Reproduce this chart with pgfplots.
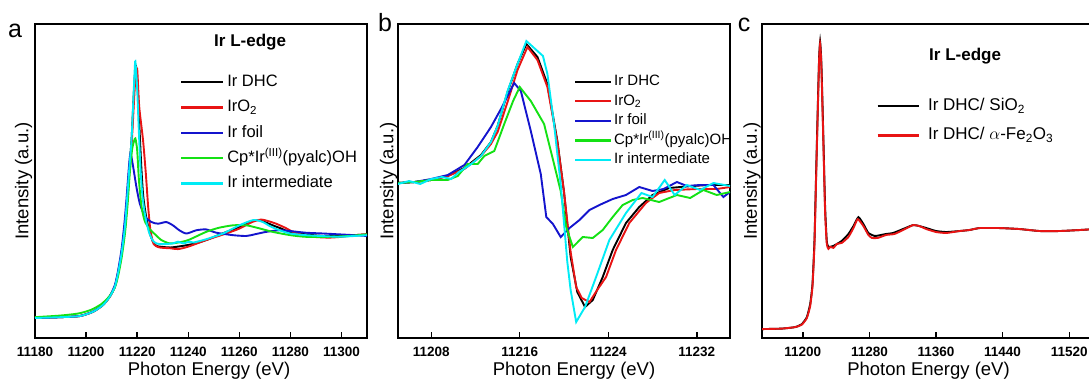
\documentclass[border=0pt]{standalone}
\usepackage{pgfplots}
\pgfplotsset{compat=1.18}
\usepackage{fontspec}
\setmainfont{Liberation Sans}

\definecolor{cRed}{RGB}{232,20,20}
\definecolor{cBlue}{RGB}{20,20,205}
\definecolor{cGreen}{RGB}{20,225,20}
\definecolor{cCyan}{RGB}{0,235,245}

\pgfplotsset{
  panel/.style={
    scale only axis, height=314pt,
    axis line style={line width=1.8pt},
    tick style={line width=1.4pt, black},
    major tick length=6pt,
    tick align=inside,
    xtick pos=bottom,
    ytick=\empty,
    scaled x ticks=false,
    /pgf/number format/assume math mode=true,
    /pgf/number format/1000 sep={},
    xticklabel style={font=\bfseries\fontsize{13.5}{14}\selectfont, anchor=base, yshift=-18pt},
    xlabel style={font=\fontsize{18.5}{20}\selectfont, at={(axis description cs:0.5,0)}, anchor=base, yshift=-37pt},
    ylabel style={font=\fontsize{18.5}{20}\selectfont, anchor=center},
    every axis plot/.append style={line width=1.9pt},
    legend cell align=left,
    clip=true,
  },
}

\begin{document}
\begin{tikzpicture}
\useasboundingbox (0pt,0pt) rectangle (1089pt,381pt);

% ---------------- panel a ----------------
\begin{axis}[panel,
  at={(35pt,43pt)}, anchor=south west, width=332pt,
  xmin=11180, xmax=11310, ymin=-0.244, ymax=3.585,
  xtick={11180,11200,11220,11240,11260,11280,11300},
  xticklabels={11180,11200,11220,11240,11260,11280,11300},
  xlabel={Photon Energy (eV)}, ylabel={Intensity (a.u.)},
  xlabel style={xshift=8pt},
  ylabel style={at={(axis description cs:-0.034,0.5)}},
  legend style={draw=none, fill=none, inner sep=0pt, outer sep=0pt,
    at={(0.437,0.839)}, anchor=north west, column sep=3pt, row sep=9.3pt,
    font=\fontsize{16.5}{17}\selectfont,
    nodes={inner sep=0pt, text height=12pt, text depth=4pt}},
  legend image code/.code={\draw[#1, line width=2.2pt] (0pt,0.3pt) -- (42pt,0.3pt);},
  every axis plot/.append style={smooth, tension=0.4},
]
\addplot[black] coordinates {
(11180,0.00) (11190,0.01) (11197.6,0.024) (11202.8,0.077) (11206.7,0.16) (11209.3,0.26)
(11211.25,0.38) (11212.5,0.545) (11213.9,0.79) (11215.2,1.11) (11216.4,1.60) (11217.1,1.89)
(11217.8,2.17) (11218.4,2.55) (11219.0,2.92) (11219.6,3.06) (11220.3,2.75) (11221.0,2.25)
(11221.7,1.80) (11222.4,1.48) (11223.6,1.22) (11224.9,1.04) (11226.2,0.93) (11227.5,0.88)
(11229,0.87) (11233,0.86) (11238,0.88) (11243,0.91) (11247,0.95) (11251,1.00) (11255,1.05)
(11260,1.11) (11264,1.17) (11267.2,1.195) (11270,1.17) (11273.1,1.13) (11276.5,1.09)
(11279.6,1.05) (11286,1.02) (11293,1.00) (11300,1.00) (11305,1.01) (11310,1.02)};
\addlegendentry{Ir DHC}
\addplot[cRed] coordinates {
(11180,0.00) (11190,0.01) (11197.6,0.024) (11202.8,0.077) (11206.7,0.16) (11209.3,0.26)
(11211.25,0.38) (11212.5,0.545) (11213.9,0.78) (11215.2,1.08) (11216.4,1.55) (11217.1,1.85)
(11217.9,2.15) (11218.6,2.55) (11219.3,2.92) (11220.0,3.04) (11220.8,2.58) (11222.3,2.17)
(11223.4,1.76) (11224.3,1.36) (11225.2,1.07) (11226.5,0.90) (11228.8,0.86) (11233,0.85)
(11236,0.84) (11240,0.87) (11247,0.95) (11254.8,1.03) (11260,1.09) (11265,1.17)
(11268.5,1.20) (11271.5,1.18) (11274.4,1.15) (11278,1.10) (11281,1.05) (11285,1.01)
(11288.7,0.99) (11295,0.98) (11300,0.99) (11305,1.01) (11310,1.02)};
\addlegendentry{IrO\textsubscript{2}}
\addplot[cBlue] coordinates {
(11180,0.00) (11190,0.01) (11197.6,0.025) (11202.8,0.08) (11206.7,0.165) (11209.3,0.27)
(11211.25,0.40) (11212.5,0.57) (11213.9,0.84) (11215,1.15) (11215.8,1.44) (11216.8,1.85)
(11217.4,2.01) (11218.4,1.85) (11219.7,1.60) (11221,1.40) (11223,1.24) (11225.6,1.17)
(11228.2,1.15) (11231.4,1.17) (11234,1.13) (11236.5,1.07) (11239.3,1.03) (11243.2,1.07)
(11247,1.08) (11251,1.04) (11257.5,1.01) (11262.7,1.00) (11266,1.02) (11270.5,1.05)
(11275.7,1.07) (11280,1.06) (11286,1.04) (11293,1.03) (11299,1.02) (11305,1.01) (11310,1.00)};
\addlegendentry{Ir foil}
\addplot[cGreen] coordinates {
(11180,0.01) (11190,0.03) (11197,0.055) (11202,0.10) (11206,0.17) (11209,0.26)
(11211.25,0.37) (11212.6,0.52) (11214,0.75) (11215.3,1.05) (11216.3,1.40) (11217.1,1.76)
(11218,2.05) (11218.8,2.16) (11219.3,2.19) (11220,2.05) (11220.7,1.68) (11221.7,1.36)
(11223,1.18) (11225,1.08) (11227,1.02) (11229.5,0.95) (11232.7,0.91) (11236,0.92)
(11240,0.95) (11247,1.05) (11252,1.10) (11257.5,1.13) (11262.7,1.13) (11267,1.10)
(11273.1,1.05) (11280,1.01) (11286,0.99) (11295,0.99) (11303,1.00) (11310,1.02)};
\addlegendentry{Cp*Ir\textsuperscript{(III)}(pyalc)OH}
\addplot[cCyan] coordinates {
(11180,0.00) (11190,0.01) (11197.6,0.024) (11202.8,0.077) (11206.7,0.16) (11209.3,0.26)
(11211.25,0.38) (11212.5,0.545) (11213.9,0.79) (11215.2,1.11) (11216.4,1.60) (11217.1,1.89)
(11217.8,2.17) (11218.4,2.58) (11219.0,3.00) (11219.3,3.13) (11220.0,2.80) (11220.7,2.25)
(11221.4,1.78) (11222.1,1.48) (11223.3,1.22) (11224.6,1.05) (11226,0.95) (11227.5,0.91)
(11230,0.90) (11234,0.91) (11236,0.93) (11238,0.91) (11240.5,0.93) (11242,0.92) (11247,0.96)
(11253.6,1.03) (11260,1.13) (11265.6,1.195) (11269.2,1.17) (11272,1.12) (11275.7,1.07)
(11280,1.03) (11286,1.01) (11292,1.00) (11299,0.99) (11305,1.00) (11310,1.01)};
\addlegendentry{Ir intermediate}
\node[font=\bfseries\fontsize{17}{18}\selectfont, anchor=base] at (rel axis cs:0.648,0.927) {Ir L-edge};
\end{axis}

% ---------------- panel b ----------------
\begin{axis}[panel,
  at={(398pt,43pt)}, anchor=south west, width=332pt,
  xmin=11205, xmax=11235, ymin=-1.56, ymax=1.58,
  xtick={11208,11216,11224,11232},
  xticklabels={11208,11216,11224,11232},
  xlabel={Photon Energy (eV)}, ylabel={Intensity (a.u.)},
  xlabel style={xshift=10pt},
  ylabel style={at={(axis description cs:-0.028,0.5)}},
  legend style={draw=none, fill=none, inner sep=0pt, outer sep=0pt,
    at={(0.530,0.8395)}, anchor=north west, column sep=2pt, row sep=4.6pt,
    font=\fontsize{15}{16}\selectfont,
    nodes={inner sep=0pt, text height=11pt, text depth=4pt}},
  legend image code/.code={\draw[#1, line width=2.2pt] (0pt,0.3pt) -- (36pt,0.3pt);},
]
\addplot[black] coordinates {
(11205,-0.01) (11206.5,0.0) (11208,0.02) (11209.5,0.06) (11211,0.14) (11212.5,0.27)
(11213.4,0.40) (11214,0.56) (11214.9,0.90) (11215.8,1.18) (11216.6,1.38) (11217.6,1.25)
(11218.5,0.98) (11219.4,0.41) (11220.0,-0.10) (11220.6,-0.75) (11221.2,-1.10) (11221.9,-1.25)
(11222.6,-1.18) (11223.5,-0.95) (11224.4,-0.68) (11225.6,-0.41) (11226.8,-0.25) (11228,-0.13)
(11229.5,-0.06) (11231.6,-0.04) (11233,-0.03) (11235,-0.03)};
\addlegendentry{Ir DHC}
\addplot[cRed] coordinates {
(11205,-0.01) (11206.5,0.0) (11208,0.02) (11209.5,0.06) (11211,0.13) (11212.5,0.26)
(11213.4,0.38) (11214,0.50) (11214.9,0.80) (11215.8,1.12) (11216.7,1.35) (11217.6,1.22)
(11218.5,0.95) (11219.4,0.40) (11220.0,-0.10) (11220.6,-0.70) (11221.1,-1.05) (11221.6,-1.16)
(11222.3,-1.20) (11223.0,-1.08) (11223.8,-0.95) (11224.7,-0.68) (11225.9,-0.41) (11227.4,-0.21)
(11228.6,-0.11) (11230,-0.08) (11232,-0.07) (11233.8,-0.07) (11235,-0.05)};
\addlegendentry{IrO\textsubscript{2}}
\addplot[cBlue] coordinates {
(11205,-0.01) (11206.5,0.0) (11208,0.03) (11209.5,0.07) (11211,0.17) (11212.2,0.35)
(11213.4,0.55) (11214.4,0.75) (11215.5,0.99) (11216.1,0.91) (11217,0.51) (11217.9,0.08)
(11218.4,-0.35) (11219,-0.42) (11219.7,-0.55) (11220.5,-0.46) (11221.4,-0.38) (11222.3,-0.28)
(11223.2,-0.23) (11224.4,-0.17) (11225.6,-0.13) (11226.8,-0.05) (11228,-0.09) (11229,-0.07)
(11230.2,0.0) (11231.1,-0.04) (11232.3,-0.03) (11233.5,-0.03) (11234.4,-0.15) (11235,-0.10)};
\addlegendentry{Ir foil}
\addplot[cGreen] coordinates {
(11205,-0.01) (11206.5,0.0) (11208,0.02) (11209.5,0.02) (11210.4,0.06) (11211.3,0.18)
(11212.2,0.18) (11212.8,0.26) (11213.7,0.31) (11214.6,0.58) (11215.4,0.81) (11216,0.95)
(11217,0.81) (11218.2,0.58) (11219.1,0.18) (11219.7,-0.09) (11220.2,-0.45) (11220.8,-0.65)
(11221.7,-0.55) (11222.6,-0.56) (11223.5,-0.48) (11224.4,-0.35) (11225.3,-0.23) (11226.2,-0.18)
(11227.1,-0.16) (11228.6,-0.20) (11230.2,-0.13) (11231.4,-0.16) (11232.6,-0.08) (11233.8,-0.13)
(11235,-0.10)};
\addlegendentry{Cp*Ir\textsuperscript{(III)}(pyalc)OH}
\addplot[cCyan] coordinates {
(11205,-0.02) (11206,0.01) (11207,-0.02) (11208,0.03) (11209,0.05) (11209.8,0.03)
(11210.5,0.10) (11211.5,0.17) (11212.5,0.26) (11213.4,0.40) (11214,0.56) (11214.9,0.91)
(11215.8,1.18) (11216.6,1.41) (11217.4,1.33) (11218.1,1.26) (11218.5,1.08) (11219.1,0.58)
(11219.7,-0.02) (11220.3,-0.80) (11220.6,-1.08) (11221.1,-1.40) (11221.9,-1.25) (11222.9,-0.95)
(11224.1,-0.58) (11225.6,-0.31) (11227,-0.11) (11228,-0.15) (11229.1,0.02) (11230,-0.13)
(11231.1,-0.03) (11232.3,-0.08) (11233.5,-0.01) (11235,-0.04)};
\addlegendentry{Ir intermediate}
\end{axis}

% ---------------- panel c ----------------
\begin{axis}[panel,
  at={(762pt,43pt)}, anchor=south west, width=333pt,
  xmin=11151, xmax=11551, ymin=-0.09, ymax=3.08,
  xtick={11200,11280,11360,11440,11520},
  xticklabels={11200,11280,11360,11440,11520},
  xlabel={Photon Energy (eV)}, ylabel={Intensity (a.u.)},
  ylabel style={at={(axis description cs:-0.030,0.5)}},
  legend style={draw=none, fill=none, inner sep=0pt, outer sep=0pt,
    at={(0.344,0.766)}, anchor=north west, column sep=7.7pt, row sep=11.3pt,
    font=\fontsize{17}{18}\selectfont,
    nodes={inner sep=0pt, text height=13pt, text depth=5pt}},
  legend image code/.code={\draw[#1, line width=2.2pt] (0pt,0.3pt) -- (41.6pt,0.3pt);},
  every axis plot/.append style={smooth, tension=0.3},
]
\addplot[black] coordinates {
(11151,0.00) (11175,0.005) (11190.8,0.02) (11198.8,0.05) (11204.8,0.12) (11208.8,0.25)
(11211.6,0.45) (11214,0.89) (11216,1.57) (11218,2.24) (11219.6,2.74) (11220.8,2.90)
(11222.0,2.75) (11222.8,2.55) (11224.8,1.90) (11226.8,1.23) (11228.8,0.89) (11230.8,0.83)
(11236.8,0.84) (11246.8,0.89) (11254.8,0.96) (11260.8,1.04) (11266.8,1.13) (11272.8,1.06)
(11278.8,0.97) (11286.8,0.94) (11300,0.96) (11308.4,0.97) (11320.4,1.01) (11332.4,1.05)
(11340,1.04) (11348.4,1.02) (11360,0.99) (11372.4,0.98) (11388.4,0.99) (11400,1.00)
(11412.4,1.02) (11436.4,1.02) (11460.4,1.01) (11484.4,0.99) (11508.4,0.99) (11532.4,1.00)
(11551,1.01)};
\addlegendentry{Ir DHC/ SiO\textsubscript{2}}
\addplot[cRed] coordinates {
(11151,0.00) (11175,0.005) (11190.8,0.02) (11198.8,0.045) (11204.8,0.11) (11208.8,0.23)
(11211.6,0.43) (11214,0.85) (11216,1.53) (11218,2.20) (11219.6,2.72) (11220.8,2.88)
(11222.0,2.72) (11222.8,2.50) (11224.8,1.85) (11226.8,1.18) (11228.8,0.86) (11230.8,0.81)
(11233,0.83) (11236.8,0.82) (11241,0.86) (11246.8,0.87) (11254.8,0.93) (11260.8,1.02)
(11266,1.11) (11272.8,1.04) (11278.8,0.95) (11283,0.92) (11290,0.92) (11300,0.95)
(11310,0.96) (11320.4,1.00) (11332.4,1.05) (11340,1.04) (11348.4,1.01) (11360,0.98)
(11372.4,0.97) (11388.4,0.99) (11400,1.00) (11412.4,1.02) (11436.4,1.02) (11460.4,1.01)
(11484.4,0.99) (11508.4,0.99) (11532.4,1.00) (11551,1.01)};
\addlegendentry{Ir DHC/ $\alpha$-Fe\textsubscript{2}O\textsubscript{3}}
\node[font=\bfseries\fontsize{17}{18}\selectfont, anchor=base] at (rel axis cs:0.610,0.885) {Ir L-edge};
\end{axis}

\node[font=\fontsize{25}{26}\selectfont, anchor=base] at (15pt,343pt) {a};
\node[font=\fontsize{25}{26}\selectfont, anchor=base] at (385pt,349pt) {b};
\node[font=\fontsize{25}{26}\selectfont, anchor=base] at (744pt,349pt) {c};
\end{tikzpicture}
\end{document}
